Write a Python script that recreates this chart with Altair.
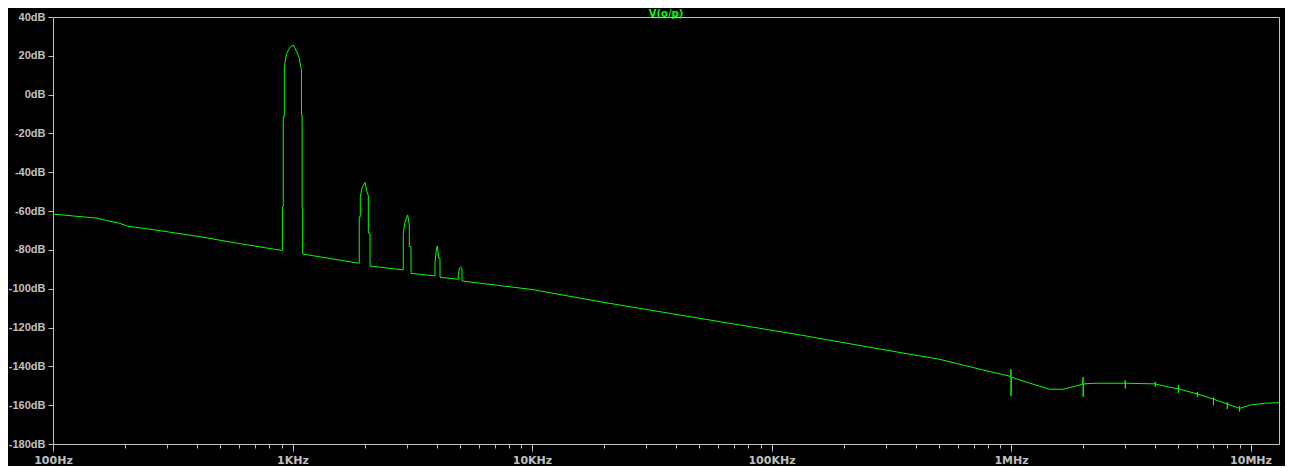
import altair as alt
import pandas as pd

# FFT magnitude of V(o/p): frequency (Hz) and level (dB)
FREQ_HZ = [
    100, 121, 152, 168, 190, 204, 280, 411, 604, 907,
    907, 915, 915, 924, 924, 930, 946, 976, 1008, 1041, 1068, 1082, 1090, 1090, 1097, 1097, 1103, 1103,
    1900, 1900, 1919, 1919, 1951, 2008, 2053, 2073, 2073, 2107, 2107,
    2901, 2901, 2949, 3027, 3074, 3074, 3125, 3125,
    3936, 3936, 3986, 4024, 4078, 4129, 4129,
    4924, 4924, 4972, 5039, 5102, 5102,
    10000, 19230, 73870, 131500, 257800, 505200, 766200, 998000,
    1.0e6, 1.0e6, 1.003e6, 1.2e6, 1.455e6, 1.649e6, 1.815e6,
    1.99e6, 2.0e6, 2.0e6, 2.01e6, 2.28e6,
    2.99e6, 3.0e6, 3.0e6, 3.01e6,
    3.99e6, 4.0e6, 4.0e6, 4.01e6, 4.61e6,
    4.99e6, 5.0e6, 5.0e6, 5.01e6,
    5.99e6, 6.0e6, 6.0e6, 6.01e6,
    6.99e6, 7.0e6, 7.0e6, 7.01e6,
    7.99e6, 8.0e6, 8.0e6, 8.01e6,
    8.99e6, 9.0e6, 9.0e6, 9.01e6,
    1.0e7, 1.15e7, 1.315e7,
]
MAG_DB = [
    -61.5, -62.5, -63.6, -64.9, -66.3, -67.7, -70.1, -73.2, -76.8, -80.3,
    -57.9, -57.9, -11.4, -11.4, 13.2, 16.5, 21.3, 24.4, 25.6, 22.1, 18.7, 14.4, 13.0, -10.5, -10.5, -58.4, -58.4, -82.1,
    -86.9, -62.9, -62.9, -52.6, -48.1, -45.2, -50.7, -52.0, -71.3, -71.3, -88.3,
    -90.3, -71.4, -65.6, -62.0, -67.2, -78.3, -78.3, -92.1,
    -93.4, -86.2, -80.0, -78.0, -84.2, -84.2, -94.1,
    -95.1, -93.3, -89.5, -88.9, -89.5, -96.0,
    -100.4, -106.7, -118.7, -123.8, -130.2, -136.4, -141.9, -145.2,
    -141.5, -155.3, -145.6, -148.7, -151.8, -151.8, -150.5,
    -149.2, -145.6, -155.6, -149.0, -148.7,
    -148.7, -147.1, -151.4, -148.7,
    -149.0, -148.0, -150.5, -149.1, -150.8,
    -151.5, -149.7, -153.7, -151.6,
    -154.2, -153.2, -155.8, -154.3,
    -156.8, -156.0, -160.0, -156.9,
    -159.4, -158.5, -161.9, -159.5,
    -161.6, -160.6, -163.2, -161.6,
    -159.9, -159.0, -158.7,
]

DECADES = [100, 1000, 10000, 100000, 1000000, 10000000]
DECADE_LABELS = ["100Hz", "1KHz", "10KHz", "100KHz", "1MHz", "10MHz"]
X_TICKS = [m * 10 ** e for e in range(2, 7) for m in range(1, 10)] + [10000000]
Y_TICKS = list(range(-180, 41, 20))

df = pd.DataFrame({"f": FREQ_HZ, "db": MAG_DB, "i": range(len(FREQ_HZ))})

label_expr = "".join(
    f"datum.value == {v} ? '{s}' : " for v, s in zip(DECADES, DECADE_LABELS)
) + "''"
major_test = " || ".join(f"datum.value == {v}" for v in DECADES)

GRAY = "#C0C0C0"
FONT = "DejaVu Sans"
YFONT = "Liberation Sans"

chart = (
    alt.Chart(df)
    .mark_line(color="#00FF00", strokeWidth=1, clip=True)
    .encode(
        x=alt.X(
            "f:Q",
            scale=alt.Scale(type="log", domain=[100, 13150000], nice=False),
            axis=alt.Axis(
                title=None,
                values=X_TICKS,
                labelExpr=label_expr,
                grid=False,
                domain=False,
                tickColor=GRAY,
                tickSize={"condition": {"test": major_test, "value": 7}, "value": 4},
                labelColor=GRAY,
                labelFont=FONT,
                labelFontWeight="bold",
                labelFontSize=11,
                labelPadding=3,
                labelOverlap=False,
                labelFlush=False,
            ),
        ),
        y=alt.Y(
            "db:Q",
            scale=alt.Scale(domain=[-180, 40], nice=False),
            axis=alt.Axis(
                title=None,
                values=Y_TICKS,
                labelExpr="datum.value + 'dB'",
                grid=False,
                domain=False,
                tickColor=GRAY,
                tickSize=5,
                labelColor=GRAY,
                labelFont=YFONT,
                labelFontWeight="bold",
                labelFontSize=11,
                labelPadding=3,
                labelOverlap=False,
                labelFlush=False,
            ),
        ),
        order="i:Q",
    )
    .properties(
        width=1226,
        height=427,
        title=alt.Title(
            "V(o/p)",
            color="#00FF00",
            font=FONT,
            fontWeight="bold",
            fontSize=10,
            anchor="middle",
            offset=-8,
        ),
        autosize=alt.AutoSizeParams(type="none"),
        padding={"left": 45, "top": 9, "right": 6, "bottom": 22},
        background="black",
    )
    .configure_view(stroke=GRAY, strokeWidth=1)
)

chart.save("out.html", embed_options={"renderer": "svg", "actions": False})
